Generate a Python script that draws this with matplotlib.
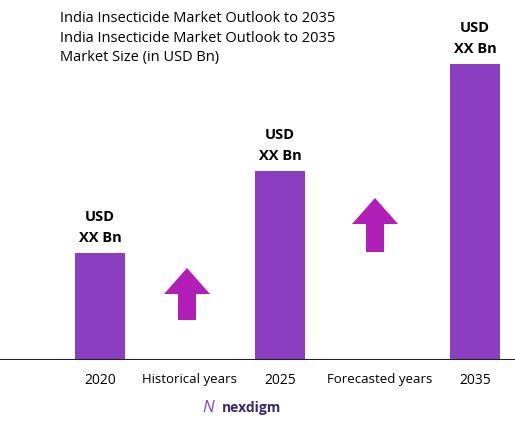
import matplotlib
matplotlib.use("Agg")
import matplotlib.pyplot as plt

plt.rcParams['font.family'] = ['Open Sans', 'DejaVu Sans']

years = ['2020', '2025', '2035']
values = [107, 189, 296]
bar_x = [100, 280, 475]
bar_labels = ['USD\nXX Bn', 'USD\nXX Bn', 'USD\nXX Bn']
period_labels = ['Historical years', 'Forecasted years']
period_x = [190, 380]
arrow_x = [187, 375]
arrow_base = [40, 108]
arrow_len = [52, 54]

fig = plt.figure(figsize=(5.15, 4.24), dpi=100)
ax = fig.add_axes([0, 64 / 424, 1, 360 / 424])
ax.set_xlim(0, 515)
ax.set_ylim(0, 360)
ax.axis('off')

ax.bar(bar_x, values, width=50, color='#8b3fc0')
ax.axhline(0, color='#222222', lw=1.5)
for x, v, lab in zip(bar_x, values, bar_labels):
    ax.text(x, v + 8, lab, ha='center', va='bottom', fontsize=10.5,
            fontweight='bold', linespacing=1.6)

for x, b, l in zip(arrow_x, arrow_base, arrow_len):
    ax.arrow(x, b, 0, l, width=18, head_width=46, head_length=26,
             length_includes_head=True, color='#b21fb8', lw=0)

for x, y in zip(bar_x, years):
    fig.text(x / 515, 1 - 380 / 424, y, ha='center', va='center', fontsize=10)
for x, p in zip(period_x, period_labels):
    fig.text(x / 515, 1 - 380 / 424, p, ha='center', va='center', fontsize=9.5)

titles = ['India Insecticide Market Outlook to 2035',
          'India Insecticide Market Outlook to 2035',
          'Market Size (in USD Bn)']
for i, t in enumerate(titles):
    fig.text(60 / 515, 1 - (18 + 20 * i) / 424, t, ha='left', va='center', fontsize=10.5)

fig.text(222 / 515, 1 - 408 / 424, 'nexdigm', ha='left', va='center',
         fontsize=10, color='#3a2a6a', fontweight='bold')
fig.text(208 / 515, 1 - 408 / 424, 'N', ha='center', va='center',
         fontsize=12, color='#8b3fc0', fontstyle='italic')

fig.savefig('out.png', dpi=100)
